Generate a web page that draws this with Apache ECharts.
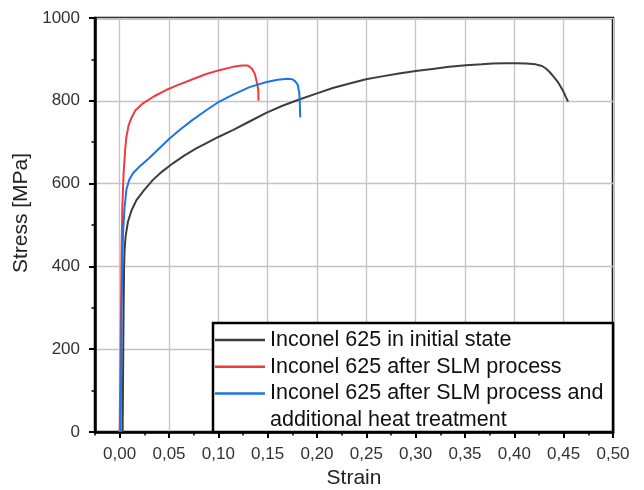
<!DOCTYPE html>
<html>
<head>
<meta charset="utf-8">
<script src="https://cdn.jsdelivr.net/npm/echarts@6/dist/echarts.min.js"></script>
<style>
  html, body { margin: 0; padding: 0; background: #fff; }
  #chart { width: 644px; height: 490px; }
</style>
</head>
<body>
<div id="chart"></div>
<script>
// Stress-strain curves: [strain, stress MPa]
const initialState = [
  [0.003, 0], [0.0035, 150], [0.004, 300], [0.0045, 400], [0.005, 440], [0.006, 472],
  [0.0084, 508], [0.012, 535], [0.017, 560], [0.025, 585], [0.0337, 609], [0.043, 629],
  [0.054, 649], [0.065, 667], [0.0776, 685], [0.088, 698], [0.0995, 712], [0.1147, 729],
  [0.1316, 750], [0.1485, 771], [0.165, 788], [0.182, 803], [0.2, 818], [0.216, 831],
  [0.233, 842], [0.2497, 852], [0.266, 859], [0.283, 866], [0.3, 872], [0.317, 877],
  [0.334, 882], [0.351, 886], [0.367, 888], [0.378, 890], [0.39, 891], [0.4005, 891],
  [0.412, 890], [0.4217, 888], [0.428, 884], [0.432, 878], [0.436, 869], [0.44, 858],
  [0.444, 846], [0.447, 834], [0.45, 821], [0.452, 810], [0.4545, 798]
];
const afterSlm = [
  [0, 0], [0.001, 200], [0.002, 450], [0.0027, 544], [0.004, 625], [0.0055, 680],
  [0.0068, 713], [0.009, 740], [0.0118, 758], [0.016, 777], [0.0236, 794], [0.035, 811],
  [0.047, 826], [0.06, 839], [0.074, 852], [0.087, 864], [0.101, 874], [0.115, 882],
  [0.124, 885], [0.13, 885], [0.134, 878], [0.137, 865], [0.139, 845], [0.1405, 826],
  [0.1407, 800]
];
const afterSlmHeat = [
  [0.001, 0], [0.0015, 150], [0.002, 300], [0.0028, 420], [0.0034, 480], [0.005, 544],
  [0.0068, 585], [0.0095, 608], [0.0135, 625], [0.02, 641], [0.03, 662], [0.04, 685],
  [0.0506, 709], [0.062, 732], [0.074, 754], [0.087, 776], [0.0995, 796], [0.115, 815],
  [0.1316, 833], [0.148, 845], [0.16, 851], [0.17, 853], [0.175, 852], [0.178, 847],
  [0.1805, 838], [0.182, 820], [0.1825, 800], [0.183, 760]
];
const seriesNames = [
  "Inconel 625 in initial state",
  "Inconel 625 after SLM process",
  "Inconel 625 after SLM process and",
  "additional heat treatment"
];
const seriesColors = ["#3d3d3d", "#ef3b3d", "#1c74e6"];
const xTicks = [0, 0.05, 0.1, 0.15, 0.2, 0.25, 0.3, 0.35, 0.4, 0.45, 0.5];

const FONT = "'Liberation Sans', Arial, sans-serif";
const chart = echarts.init(document.getElementById("chart"));

const curve = (name, data, color) => ({
  name, type: "line", data, symbol: "none", showSymbol: false,
  lineStyle: { color, width: 2 }, itemStyle: { color }, z: 3
});

chart.setOption({
  animation: false,
  textStyle: { fontFamily: FONT },
  grid: {
    left: 95, right: 31, top: 18, bottom: 58, outerBoundsMode: "none",
    show: true, borderColor: "#000", borderWidth: 2.5
  },
  xAxis: [{
    type: "value", min: -0.025, max: 0.5, interval: 0.025,
    axisLine: { onZero: false, lineStyle: { color: "#000", width: 2.5 } },
    axisTick: { customValues: xTicks, length: 6, lineStyle: { color: "#000", width: 2 } },
    axisLabel: {
      customValues: xTicks, fontSize: 17, color: "#333", margin: 14, fontFamily: FONT,
      formatter: (v) => v.toFixed(2).replace(".", ",")
    },
    splitLine: { show: true, lineStyle: { color: "#c4c4c4", width: 1.3 } },
    name: "Strain", nameLocation: "middle", nameGap: 36,
    nameTextStyle: { fontSize: 21, color: "#222", fontFamily: FONT }
  }, {
    // minor ticks every 0.025
    type: "value", min: -0.025, max: 0.5, interval: 0.025, position: "bottom",
    axisLine: { show: false, onZero: false },
    axisTick: { length: 3.5, lineStyle: { color: "#000", width: 1.5 } },
    axisLabel: { show: false }, splitLine: { show: false }
  }],
  yAxis: {
    type: "value", min: 0, max: 1000, interval: 200,
    axisLine: { show: true, onZero: false, lineStyle: { color: "#000", width: 2.5 } },
    axisTick: { show: true, length: 6, lineStyle: { color: "#000", width: 2 } },
    minorTick: { show: true, splitNumber: 2, length: 3.5, lineStyle: { color: "#000", width: 1.5 } },
    axisLabel: { fontSize: 17, color: "#333", margin: 15, fontFamily: FONT, formatter: (v) => String(v) },
    splitLine: { show: true, lineStyle: { color: "#c4c4c4", width: 1.3 } },
    name: "Stress [MPa]", nameLocation: "middle", nameGap: 60,
    nameTextStyle: { fontSize: 21, color: "#222", fontFamily: FONT, padding: [0, 0, 0, 24] }
  },
  graphic: [{
    type: "rect", z: 5,
    shape: { x: 213, y: 323, width: 400, height: 109 },
    style: { fill: "#fff", stroke: "#000", lineWidth: 2.5 }
  }],
  legend: {
    orient: "vertical", left: 215, top: 328, padding: 0, z: 6,
    itemWidth: 50, itemHeight: 2.5, itemGap: 2.7, icon: "rect",
    textStyle: { fontSize: 21.5, color: "#111", lineHeight: 24, fontFamily: FONT },
    selectedMode: false,
    data: [
      { name: seriesNames[0] }, { name: seriesNames[1] }, { name: seriesNames[2] },
      { name: seriesNames[3], itemStyle: { opacity: 0 } }
    ]
  },
  series: [
    curve(seriesNames[0], initialState, seriesColors[0]),
    curve(seriesNames[1], afterSlm, seriesColors[1]),
    curve(seriesNames[2], afterSlmHeat, seriesColors[2]),
    { name: seriesNames[3], type: "line", data: [], symbol: "none", lineStyle: { opacity: 0 } }
  ]
});
</script>
</body>
</html>
